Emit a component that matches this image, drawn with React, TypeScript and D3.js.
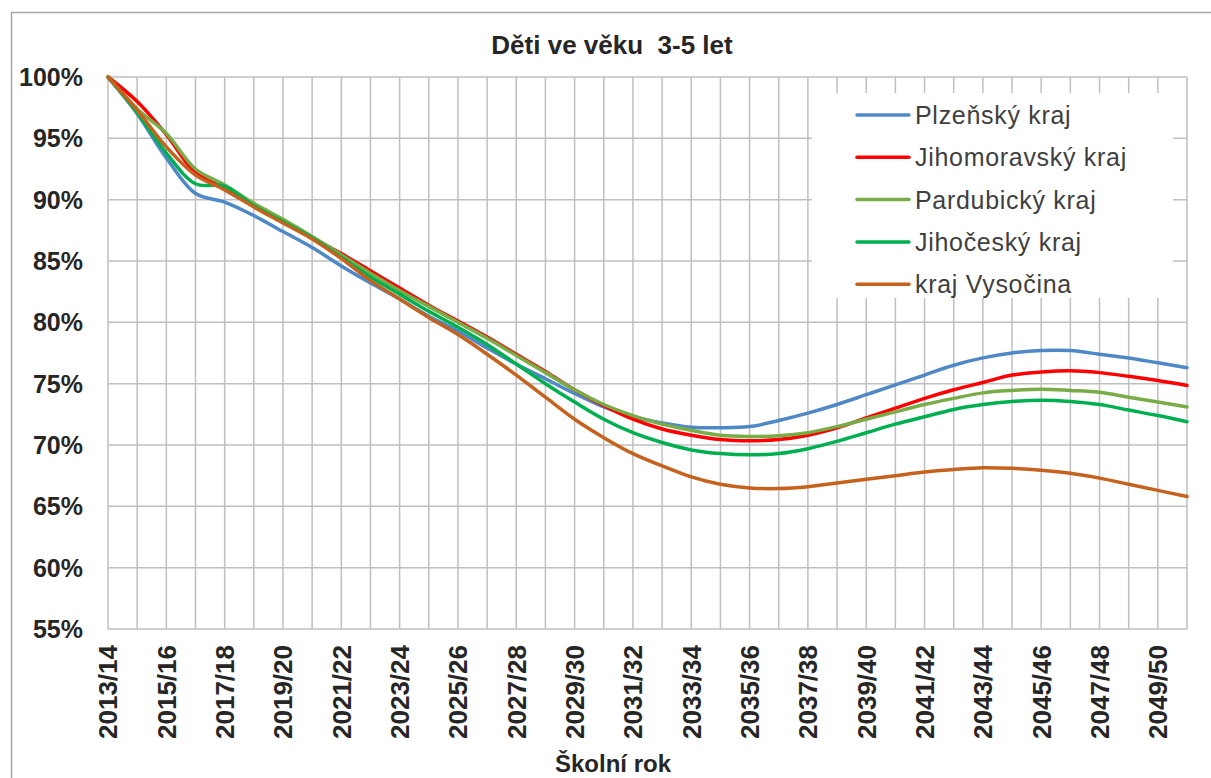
import React from "react";
import * as d3 from "d3";

const categories = [
  "2013/14", "2014/15", "2015/16", "2016/17", "2017/18", "2018/19", "2019/20", "2020/21",
  "2021/22", "2022/23", "2023/24", "2024/25", "2025/26", "2026/27", "2027/28", "2028/29",
  "2029/30", "2030/31", "2031/32", "2032/33", "2033/34", "2034/35", "2035/36", "2036/37",
  "2037/38", "2038/39", "2039/40", "2040/41", "2041/42", "2042/43", "2043/44", "2044/45",
  "2045/46", "2046/47", "2047/48", "2048/49", "2049/50", "2050/51",
];

const plzensky = [
  100, 97.0, 93.4, 90.5, 89.8, 88.7, 87.4, 86.1, 84.6, 83.2, 81.9, 80.5, 79.3, 77.9, 76.6, 75.4,
  74.2, 73.1, 72.3, 71.8, 71.45, 71.4, 71.5, 72.0, 72.6, 73.3, 74.1, 74.9, 75.7, 76.5, 77.1, 77.5,
  77.7, 77.7, 77.4, 77.1, 76.7, 76.3,
];
const jihomoravsky = [
  100, 98.0, 95.3, 92.2, 90.9, 89.5, 88.2, 86.9, 85.6, 84.2, 82.8, 81.4, 80.1, 78.8, 77.4, 76.0,
  74.5, 73.2, 72.1, 71.3, 70.8, 70.45, 70.35, 70.45, 70.8, 71.4, 72.2, 73.0, 73.8, 74.5, 75.1, 75.7,
  75.95, 76.05, 75.9, 75.6, 75.25, 74.85,
];
const pardubicky = [
  100, 97.4, 95.4, 92.5, 91.2, 89.7, 88.4, 87.0, 85.5, 84.0, 82.6, 81.3, 80.0, 78.7, 77.3, 75.9,
  74.5, 73.3, 72.4, 71.7, 71.2, 70.8, 70.7, 70.75, 71.0, 71.5, 72.1, 72.7, 73.3, 73.8, 74.25, 74.45,
  74.55, 74.45, 74.3, 73.9, 73.5, 73.1,
];
const jihocesky = [
  100, 97.1, 93.8, 91.3, 91.1, 89.5, 88.2, 86.9, 85.3, 83.7, 82.3, 80.9, 79.6, 78.2, 76.6, 75.0,
  73.5, 72.1, 71.0, 70.2, 69.6, 69.3, 69.2, 69.3, 69.7, 70.3, 71.0, 71.7, 72.3, 72.9, 73.3, 73.55,
  73.65, 73.55, 73.3, 72.85, 72.4, 71.9,
];
const vysocina = [
  100, 97.3, 94.3, 92.0, 90.8, 89.4, 88.1, 86.8, 85.2, 83.4, 81.9, 80.4, 79.0, 77.4, 75.7, 73.9,
  72.1, 70.6, 69.3, 68.3, 67.4, 66.8, 66.5, 66.45, 66.6, 66.9, 67.2, 67.5, 67.8, 68.0, 68.15, 68.1,
  67.95, 67.7, 67.3, 66.8, 66.3, 65.8,
];

const seriesNames = ["Plzeňský kraj", "Jihomoravský kraj", "Pardubický kraj", "Jihočeský kraj", "kraj Vysočina"];
const seriesColors = ["#4f88c6", "#ff0000", "#77ac46", "#00b050", "#c5621d"];
const seriesValues = [plzensky, jihomoravsky, pardubicky, jihocesky, vysocina];
const yTicks = [55, 60, 65, 70, 75, 80, 85, 90, 95, 100];

export default function App() {
  const width = 1211;
  const height = 778;
  const plot = { left: 108, right: 1187, top: 77, bottom: 629 };

  const x = d3.scalePoint<string>().domain(categories).range([plot.left, plot.right]);
  const y = d3.scaleLinear().domain([55, 100]).range([plot.bottom, plot.top]);

  const line = d3.line<number>()
    .x((d, i) => x(categories[i]) as number)
    .y(d => y(d))
    .curve(d3.curveCatmullRom.alpha(0.5));

  const grid = "#bfbfbf";
  const font = "'Liberation Sans', Arial, sans-serif";

  return (
    <div style={{ position: "fixed", left: 0, top: 0 }}>
      <svg width={width} height={height} style={{ display: "block", fontFamily: font }}>
        <rect x={0} y={0} width={width} height={height} fill="#fff" />
        <rect x={11.5} y={12.5} width={1220} height={800} fill="none" stroke="#a6a6a6" strokeWidth={1.5} />

        <text x={612} y={54} textAnchor="middle" fontSize={26} fontWeight="bold" fill="#262626"
          style={{ whiteSpace: "pre" }}>
          {"Děti ve věku  3-5 let"}
        </text>

        {/* grid */}
        {categories.map(c => (
          <line key={c} x1={x(c)} x2={x(c)} y1={plot.top} y2={plot.bottom} stroke={grid} strokeWidth={1.5} />
        ))}
        {yTicks.map(t => (
          <line key={t} x1={plot.left} x2={plot.right} y1={y(t)} y2={y(t)} stroke={grid} strokeWidth={1.5} />
        ))}

        {/* legend background covers the grid */}
        <rect x={812} y={93} width={361} height={205} fill="#fff" />

        {seriesValues.map((vals, k) => (
          <path key={k} d={line(vals) || ""} fill="none" stroke={seriesColors[k]} strokeWidth={3.5}
            strokeLinejoin="round" strokeLinecap="round" />
        ))}

        {yTicks.map(t => (
          <text key={t} x={83} y={y(t)} dy="0.36em" textAnchor="end" fontSize={25} fontWeight="bold" fill="#262626">
            {t + "%"}
          </text>
        ))}

        {categories.map((c, i) => i % 2 === 0 ? (
          <text key={c} transform={`translate(${x(c)},645) rotate(-90)`} dy="0.36em" textAnchor="end"
            fontSize={26} fontWeight="bold" fill="#262626">
            {c}
          </text>
        ) : null)}

        <text x={613} y={772} textAnchor="middle" fontSize={24} fontWeight="bold" fill="#262626">Školní rok</text>

        {seriesNames.map((n, k) => {
          const ly = 115 + k * 42.3;
          return (
            <g key={n}>
              <line x1={857} x2={909} y1={ly} y2={ly} stroke={seriesColors[k]} strokeWidth={3.5} strokeLinecap="round" />
              <text x={915} y={ly} dy="0.36em" fontSize={25} letterSpacing={0.7} fill="#404040">{n}</text>
            </g>
          );
        })}
      </svg>
    </div>
  );
}
